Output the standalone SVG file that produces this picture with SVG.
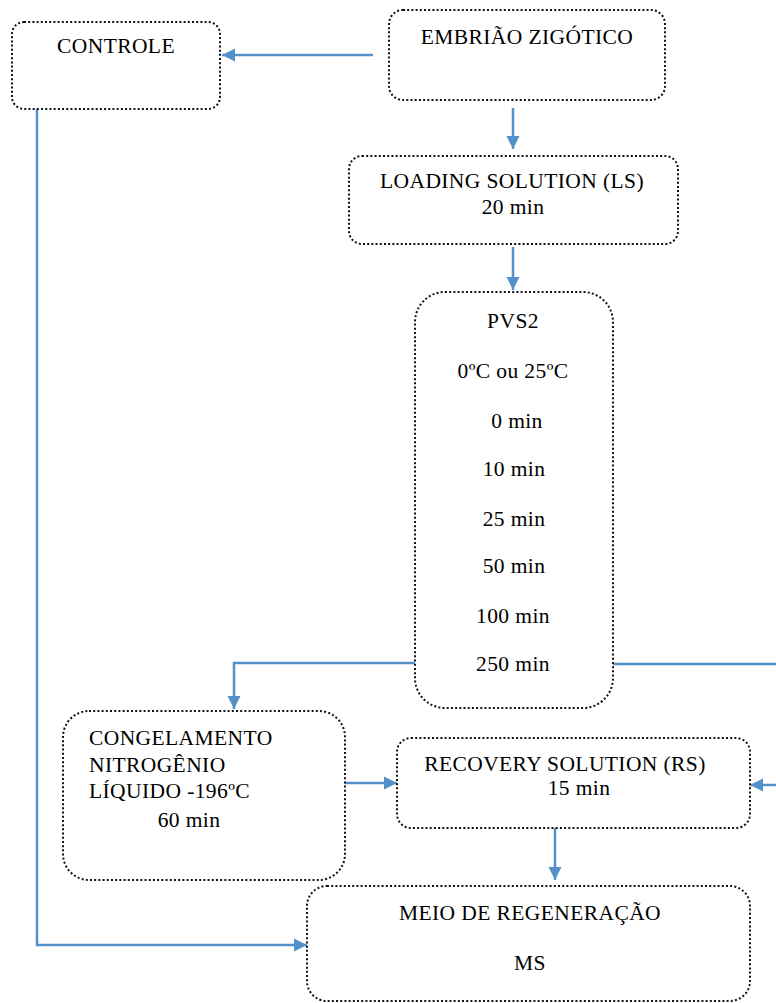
<svg xmlns="http://www.w3.org/2000/svg" width="776" height="1003" viewBox="0 0 776 1003">
<style>
.box{fill:#fff;stroke:#111;stroke-width:2;stroke-dasharray:2 2.2}
.t{font-family:'Liberation Serif','Times New Roman',Tinos,'DejaVu Serif',serif;font-size:21.5px;fill:#000;letter-spacing:0.4px}
.c{text-anchor:middle}
.con{fill:none;stroke:#5591c9;stroke-width:2.5}
</style>
<defs>
<marker id="ah" markerUnits="userSpaceOnUse" markerWidth="14" markerHeight="14" refX="13" refY="7" orient="auto">
<path d="M0,0.5 L13,7 L0,13.5 z" fill="#5591c9"/>
</marker>
</defs>
<rect width="776" height="1003" fill="#fff"/>
<g id="connectors">
<path class="con" d="M373,55 L222,55" marker-end="url(#ah)"/>
<path class="con" d="M513,108 L513,149" marker-end="url(#ah)"/>
<path class="con" d="M513,247 L513,290" marker-end="url(#ah)"/>
<path class="con" d="M415,663 L234,663 L234,709" marker-end="url(#ah)"/>
<path class="con" d="M613,664 L778,664 L778,785 L750,785" marker-end="url(#ah)"/>
<path class="con" d="M345,783 L397,783" marker-end="url(#ah)"/>
<path class="con" d="M555,828 L555,880" marker-end="url(#ah)"/>
<path class="con" d="M37,109 L37,945 L307,945" marker-end="url(#ah)"/>
</g>
<g id="controle">
<rect class="box" x="12" y="22" width="208" height="87" rx="12"/>
<text class="t c" x="116" y="53" font-family="Liberation Serif, serif">CONTROLE</text>
</g>
<g id="embriao">
<rect class="box" x="389" y="10" width="276" height="90" rx="14"/>
<text class="t c" x="527" y="44">EMBRIÃO ZIGÓTICO</text>
</g>
<g id="ls">
<rect class="box" x="349" y="156" width="329" height="88" rx="13"/>
<text class="t c" x="512" y="188">LOADING SOLUTION (LS)</text>
<text class="t c" x="513" y="214">20 min</text>
</g>
<g id="pvs2">
<rect class="box" x="415" y="292" width="198" height="416" rx="30"/>
<text class="t c" x="513" y="328">PVS2</text>
<text class="t c" x="513" y="378">0ºC ou 25ºC</text>
<text class="t c" x="517" y="428">0 min</text>
<text class="t c" x="514" y="476">10 min</text>
<text class="t c" x="514" y="526">25 min</text>
<text class="t c" x="514" y="573">50 min</text>
<text class="t c" x="513" y="623">100 min</text>
<text class="t c" x="513" y="671">250 min</text>
</g>
<g id="congelamento">
<rect class="box" x="63" y="711" width="282" height="169" rx="26"/>
<text class="t" x="89" y="745">CONGELAMENTO</text>
<text class="t" x="89" y="772">NITROGÊNIO</text>
<text class="t" x="89" y="798">LÍQUIDO -196ºC</text>
<text class="t c" x="189" y="827">60 min</text>
</g>
<g id="recovery">
<rect class="box" x="397" y="738" width="353" height="90" rx="14"/>
<text class="t c" x="565" y="771">RECOVERY SOLUTION (RS)</text>
<text class="t c" x="579" y="795">15 min</text>
</g>
<g id="meio">
<rect class="box" x="307" y="886" width="443" height="115" rx="20"/>
<text class="t c" x="530" y="920">MEIO DE REGENERAÇÃO</text>
<text class="t c" x="530" y="970">MS</text>
</g>
</svg>
